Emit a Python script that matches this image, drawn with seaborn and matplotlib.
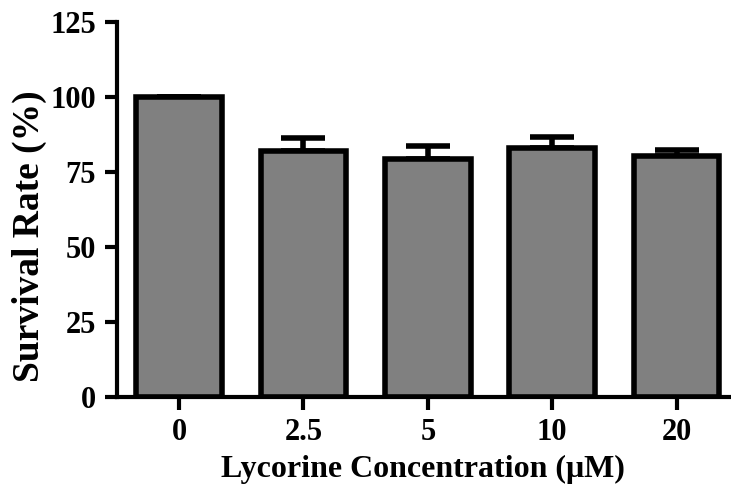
import matplotlib
matplotlib.use("Agg")
import matplotlib.pyplot as plt
import seaborn as sns
import pandas as pd

concentrations = ["0", "2.5", "5", "10", "20"]
survival = [100.0, 82.0, 79.3, 83.0, 80.5]
sem = [0.0, 4.3, 4.4, 3.7, 1.8]
y_ticks = [0, 25, 50, 75, 100, 125]

sns.set_theme(style="ticks")
plt.rcParams['font.family'] = ['Liberation Serif', 'DejaVu Serif']
plt.rcParams['font.weight'] = 'bold'
plt.rcParams['text.color'] = 'black'
plt.rcParams['axes.labelcolor'] = 'black'
plt.rcParams['xtick.color'] = 'black'
plt.rcParams['ytick.color'] = 'black'

df = pd.DataFrame({"conc": concentrations, "rate": survival})

fig = plt.figure(figsize=(7.31, 4.91), dpi=100)
ax = fig.add_axes([0.160, 0.191, 0.837, 0.764])

sns.barplot(data=df, x="conc", y="rate", ax=ax, color="#808080",
            saturation=1, width=0.69, edgecolor="black", linewidth=4,
            errorbar=None, zorder=2)

xs = list(range(len(concentrations)))
ax.errorbar(xs, survival, yerr=[[0]*len(sem), sem], fmt="none",
            ecolor="black", elinewidth=4, capsize=16, capthick=4, zorder=1)

ax.set_ylim(0, 125)
ax.set_xlim(-0.5, 4.42)
ax.set_yticks(y_ticks)
ax.set_xlabel("Lycorine Concentration (μM)", fontsize=23, fontweight="bold",
              labelpad=6, color="black")
ax.set_ylabel("Survival Rate (%)", fontsize=27, fontweight="bold", color="black")
ax.yaxis.set_label_coords(-0.115, 0.43)
ax.tick_params(axis="both", labelsize=22, width=3, length=9, colors="black", pad=6)
for lab in ax.get_xticklabels() + ax.get_yticklabels():
    lab.set_fontweight("bold")
for s in ["top", "right"]:
    ax.spines[s].set_visible(False)
for s in ["left", "bottom"]:
    ax.spines[s].set_linewidth(3)
    ax.spines[s].set_color("black")

fig.savefig("out.png", dpi=100)
